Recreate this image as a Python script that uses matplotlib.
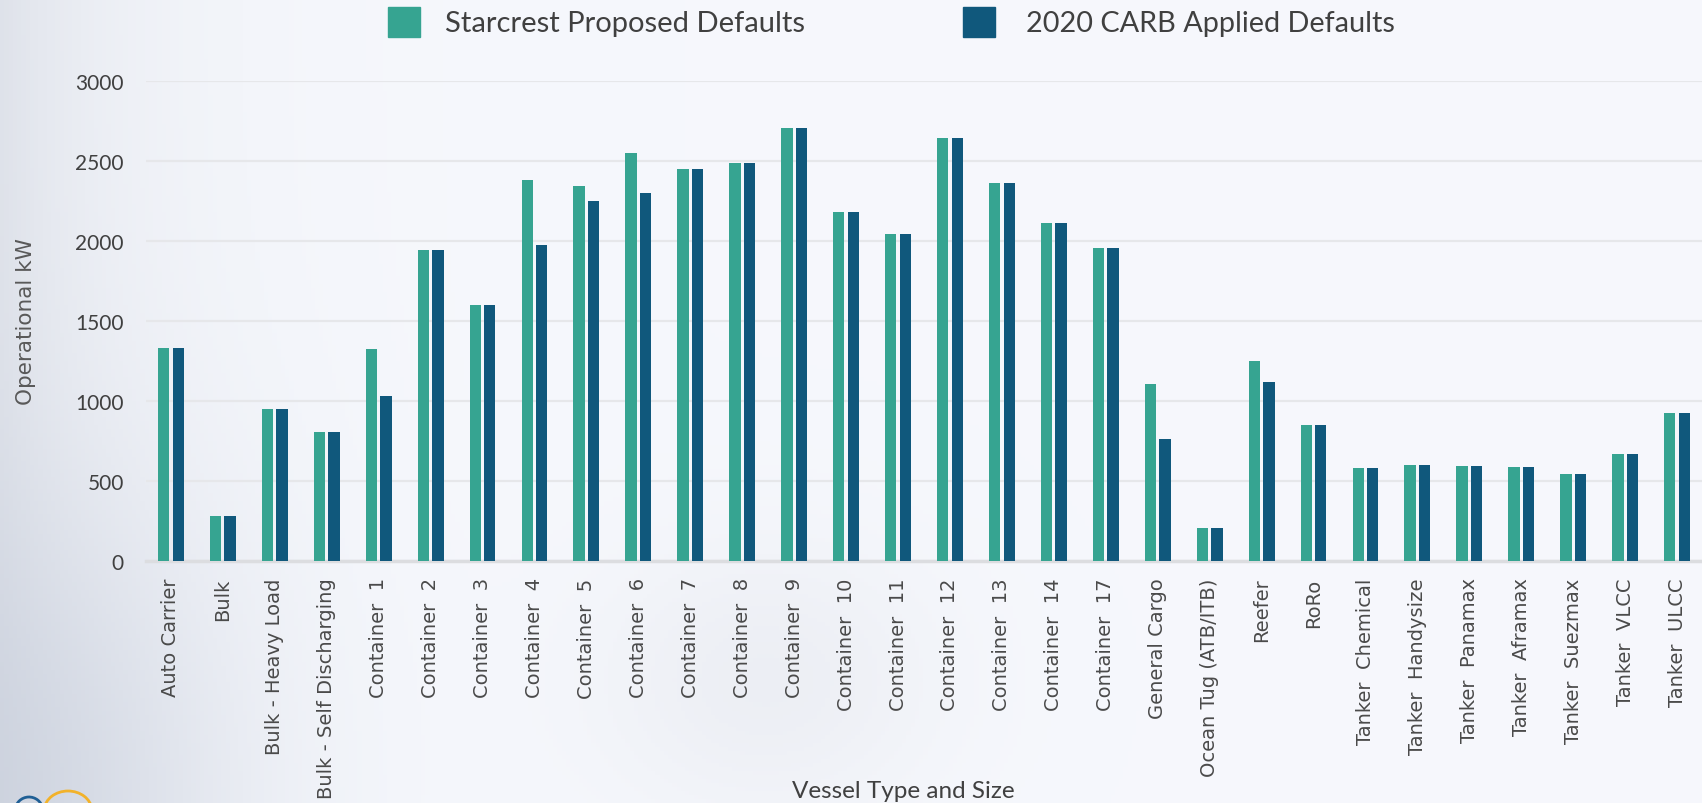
import numpy as np
import matplotlib
matplotlib.use("Agg")
import matplotlib.pyplot as plt
from matplotlib.patches import Rectangle, Arc

categories = ["Auto Carrier", "Bulk", "Bulk - Heavy Load", "Bulk - Self Discharging",
              "Container  1", "Container  2", "Container  3", "Container  4",
              "Container  5", "Container  6", "Container  7", "Container  8",
              "Container  9", "Container  10", "Container  11", "Container  12",
              "Container  13", "Container  14", "Container  17", "General Cargo",
              "Ocean Tug (ATB/ITB)", "Reefer", "RoRo", "Tanker  Chemical",
              "Tanker  Handysize", "Tanker  Panamax", "Tanker  Aframax",
              "Tanker  Suezmax", "Tanker  VLCC", "Tanker  ULCC"]

starcrest = [1327, 281, 948, 804, 1323, 1944, 1596, 2381, 2340, 2547, 2449, 2486,
             2704, 2179, 2044, 2644, 2358, 2111, 1952, 1102, 204, 1250, 848,
             581, 598, 590, 585, 540, 669, 921]
carb = [1327, 281, 948, 804, 1027, 1944, 1596, 1975, 2248, 2298, 2449, 2486,
        2704, 2179, 2044, 2644, 2358, 2111, 1952, 759, 204, 1115, 848,
        581, 598, 590, 585, 540, 669, 921]
series_names = ["Starcrest Proposed Defaults", "2020 CARB Applied Defaults"]
yticks = [0, 500, 1000, 1500, 2000, 2500, 3000]

GREEN = "#36A491"
BLUE = "#10587C"

W, H = 1702, 804
fig = plt.figure(figsize=(W / 100, H / 100), dpi=100)

# background gradient
bg = fig.add_axes([0, 0, 1, 1], zorder=-10)
xx, yy = np.meshgrid(np.linspace(0, 1, 400), np.linspace(0, 1, 200))
base = np.ones((200, 400, 3))
left = np.exp(-xx / 0.07)[..., None]
lowleft = (np.exp(-((xx - 0.0) ** 2) / 0.02 - ((yy - 1.0) ** 2) / 0.15))[..., None]
mid = (np.exp(-((xx - 0.45) ** 2) / 0.01 - ((yy - 0.85) ** 2) / 0.03))[..., None]
tint = np.array([0.965, 0.972, 0.99])
img = base * tint
img = img * (1 - 0.55 * left) + 0.55 * left * np.array([0.80, 0.82, 0.86])
img = img * (1 - 0.5 * lowleft) + 0.5 * lowleft * np.array([0.74, 0.77, 0.83])
img = img * (1 - 0.35 * mid) + 0.35 * mid * np.array([0.86, 0.87, 0.90])
bg.imshow(img, aspect="auto", extent=[0, 1, 0, 1], origin="upper")
bg.set_xlim(0, 1)
bg.set_ylim(0, 1)
bg.axis("off")

ax = fig.add_axes([146 / W, 1 - 561.7 / H, (1702 - 146) / W, (561.7 - 81.7) / H])
ax.patch.set_alpha(0)

x = np.arange(len(categories))
off = 0.14
bw = 0.218
ax.bar(x - off, starcrest, width=bw, color=GREEN, zorder=3)
ax.bar(x + off, carb, width=bw, color=BLUE, zorder=3)

ax.set_xlim(-0.48, len(categories) - 0.52)
ax.set_ylim(0, 3000)
ax.set_yticks(yticks)
ax.set_yticklabels([str(v) for v in yticks], fontsize=15, color="#404040", family="Lato")
ax.grid(axis="y", color="#e6e7ea", linewidth=1.6, zorder=0)
ax.set_axisbelow(True)
for s in ["top", "right", "left"]:
    ax.spines[s].set_visible(False)
ax.spines["bottom"].set_color("#dcdde0")
ax.spines["bottom"].set_linewidth(2.5)
ax.tick_params(axis="y", length=0, pad=16)
ax.tick_params(axis="x", length=0, pad=12)
ax.set_xticks(x)
ax.set_xticklabels(categories, rotation=90, fontsize=14, color="#4a4a4a",
                   family="DejaVu Sans", va="top", ha="center")

ax.set_ylabel("Operational kW", fontsize=15.5, color="#595959", family="DejaVu Sans")
ax.yaxis.set_label_coords(-0.071, 0.5)

fig.text(903 / W, 1 - 792 / H, "Vessel Type and Size", fontsize=17.5, color="#404040",
         family="Lato", ha="center", va="center")

# legend
for name, col, sx, tx, fs in [(series_names[0], GREEN, 388, 445, 21),
                              (series_names[1], BLUE, 963, 1026, 20.8)]:
    fig.patches.append(Rectangle((sx / W, 1 - 38 / H), 32 / W, 30 / H,
                                 transform=fig.transFigure, color=col))
    fig.text(tx / W, 1 - 24 / H, name, fontsize=fs, color="#404040", family="Lato",
             ha="left", va="center")

# small logo arcs bottom-left
fig.patches.append(Arc((29 / W, 1 - 812 / H), 28 / W, 28 / H, theta1=20, theta2=170,
                       transform=fig.transFigure, color="#1f5f95", lw=2))
fig.patches.append(Arc((68 / W, 1 - 812 / H), 48 / W, 40 / H, theta1=10, theta2=170,
                       transform=fig.transFigure, color="#f2b22a", lw=2))

fig.savefig("out.png", dpi=100)
